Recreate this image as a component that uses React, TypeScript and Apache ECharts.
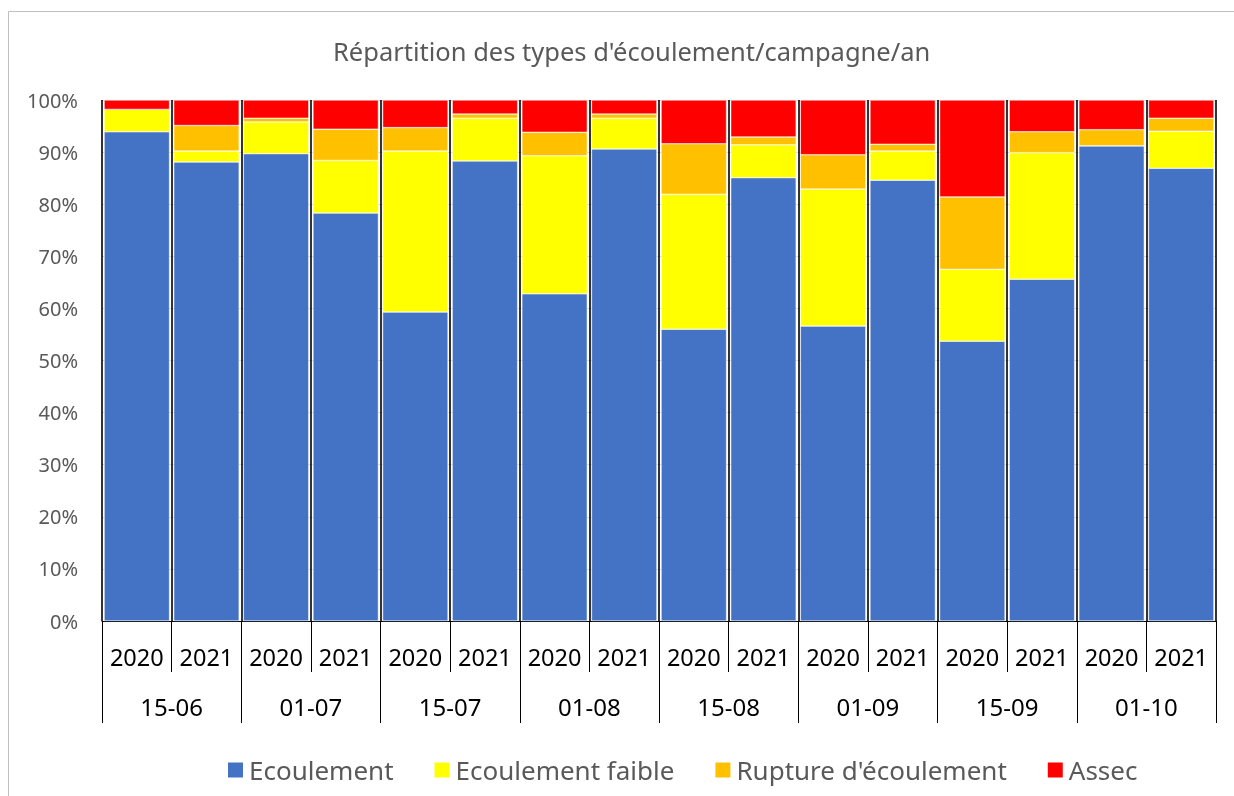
import React, { useEffect, useRef } from "react";
import * as echarts from "echarts";

const years = ["2020", "2021", "2020", "2021", "2020", "2021", "2020", "2021", "2020", "2021", "2020", "2021", "2020", "2021", "2020", "2021"];
const dates = ["15-06", "01-07", "15-07", "01-08", "15-08", "01-09", "15-09", "01-10"];
const ecoulement = [93.9, 88.1, 89.7, 78.3, 59.3, 88.3, 62.8, 90.6, 56.0, 85.1, 56.6, 84.6, 53.7, 65.6, 91.2, 86.9];
const faible = [4.3, 2.1, 6.1, 10.1, 30.9, 8.2, 26.5, 5.9, 25.9, 6.3, 26.3, 5.6, 13.8, 24.3, 0, 7.1];
const rupture = [0, 4.9, 0.7, 6.0, 4.5, 0.8, 4.5, 0.8, 9.7, 1.5, 6.6, 1.3, 13.9, 4.0, 3.1, 2.5];
const assec = [1.8, 4.9, 3.5, 5.6, 5.3, 2.7, 6.2, 2.7, 8.4, 7.1, 10.5, 8.5, 18.6, 6.1, 5.7, 3.5];

const FONT = "'Noto Sans', sans-serif";

export default function App() {
  const ref = useRef<HTMLDivElement>(null);
  useEffect(() => {
    if (!ref.current) return;
    const chart = echarts.init(ref.current, null, { renderer: "svg" });
    const mk = (name: string, data: number[], color: string) => ({
      name,
      type: "bar",
      stack: "total",
      data,
      barCategoryGap: "6%",
      itemStyle: { color, borderColor: "#ffffff", borderWidth: 0.5 },
    });
    chart.setOption({
      animation: false,
      textStyle: { fontFamily: FONT },
      title: {
        text: "Répartition des types d'écoulement/campagne/an",
        left: 328,
        top: 33,
        textStyle: { fontFamily: FONT, fontSize: 25.5, fontWeight: "normal", color: "#595959" },
      },
      legend: {
        left: 221,
        top: 752,
        icon: "rect",
        itemWidth: 17,
        itemHeight: 17,
        itemGap: 39,
        textStyle: { fontFamily: FONT, fontSize: 26, color: "#595959" },
        data: ["Ecoulement", "Ecoulement faible", "Rupture d'écoulement", "Assec"],
      },
      grid: { left: 102, right: 18, top: 100, bottom: 175, containLabel: false },
      xAxis: [
        {
          type: "category",
          data: years,
          position: "bottom",
          axisLine: { show: true, lineStyle: { color: "#000", width: 1 } },
          axisTick: { show: true, interval: 0, length: 51, lineStyle: { color: "#000", width: 1 } },
          axisLabel: { interval: 0, margin: 24, fontFamily: FONT, fontSize: 23.5, color: "#000" },
          splitLine: { show: true, interval: 0, lineStyle: { color: "#000", width: 1.6 } },
        },
        {
          type: "category",
          data: dates,
          position: "bottom",
          axisLine: { show: false },
          axisTick: { show: true, interval: 0, length: 102, lineStyle: { color: "#000", width: 1 } },
          axisLabel: { interval: 0, margin: 73, fontFamily: FONT, fontSize: 24, color: "#000" },
          splitLine: { show: false },
        },
      ],
      yAxis: {
        type: "value",
        min: 0,
        max: 100,
        interval: 10,
        axisLine: { show: false },
        axisTick: { show: false },
        axisLabel: { formatter: "{value}%", margin: 24, fontFamily: FONT, fontSize: 20, color: "#595959" },
        splitLine: { show: true, lineStyle: { color: "#d9d9d9", width: 1 } },
      },
      graphic: [
        {
          type: "rect",
          shape: { x: 8.5, y: 11.5, width: 1240, height: 800 },
          style: { fill: "none", stroke: "#bfbfbf", lineWidth: 1 },
          silent: true,
        },
      ],
      series: [
        mk("Ecoulement", ecoulement, "#4472c4"),
        mk("Ecoulement faible", faible, "#ffff00"),
        mk("Rupture d'écoulement", rupture, "#ffc000"),
        mk("Assec", assec, "#ff0000"),
      ],
    });
    return () => chart.dispose();
  }, []);
  return <div ref={ref} style={{ position: "fixed", left: 0, top: 0, width: 1234, height: 796 }} />;
}
